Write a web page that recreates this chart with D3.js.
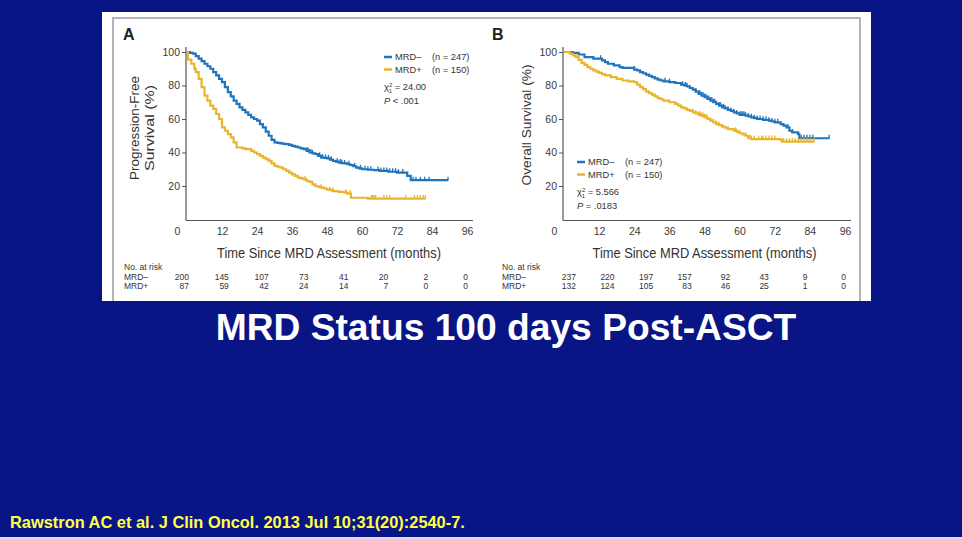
<!DOCTYPE html>
<html>
<head>
<meta charset="utf-8">
<script src="https://cdn.jsdelivr.net/npm/d3@7/dist/d3.min.js"></script>
<style>
  html, body { margin: 0; padding: 0; background: #0a1585; }
  svg { display: block; }
  text { font-family: "Liberation Sans", Arial, Helvetica, sans-serif; }
</style>
</head>
<body>
<svg id="chart" width="962" height="539"></svg>
<script>
// ---------------- DATA ----------------
const xTicks = [0, 12, 24, 36, 48, 60, 72, 84, 96];
const yTicks = [20, 40, 60, 80, 100];
const seriesNames = ["MRD\u2013", "MRD+"];
const seriesN = ["(n = 247)", "(n = 150)"];

// Panel A: progression-free survival [month, %]
const pfsNeg = [[0,100],[1,99.5],[2,99],[3,97.5],[4,96],[5,94.5],[6,93],[7,91.5],[8,90],[9,88],[10,86],[11,84],[12,82],[13,79],[14,76],[15,73.5],[16,71],[17,69],[18,67],[19,65.5],[20,64],[21,62.5],[22,61],[23,60],[24,59],[25,57],[26,55],[27,52.5],[28,50],[29,47.5],[30,46],[31,45.8],[32,45.5],[33,45.2],[34,45],[35,44.5],[36,44],[37,43.5],[38,43],[39,42.5],[40,42],[41,41],[42,40],[43,39.5],[44,39],[45,38],[46,37],[47,36.8],[48,36.5],[49,35.7],[50,35],[51,34.5],[52,34],[53,33.7],[54,33.5],[55,33],[56,32.5],[57,31.8],[58,31],[59,30.5],[60,30],[62,29.7],[64,29.5],[66,29],[69,28.5],[72,28],[75.5,26],[76.7,23.5],[89.5,23.5]];
const pfsPos = [[0,100],[0.3,95.5],[1.5,93],[2.5,90],[3,88],[4,84],[5,79],[6,74],[7,71],[8,68],[9,66],[10,63],[11,60],[12,55],[13,53],[14,51],[15,49],[16,46],[17,43],[19,42.5],[20,42],[22,41],[23,40],[24,39],[25,38],[26,37],[27,36],[28,35],[29,33.5],[30,32],[31,31.5],[32,31],[33,30],[34,29],[35,28],[36,27],[37,26],[38,25],[39,24.5],[40,24],[41,23],[42,22.5],[43,21],[44,20],[45,19.5],[46,19],[47,18.5],[48,18],[49,17.5],[50,17],[52,16.5],[54,16],[55,15.5],[56.2,13],[62,12.5],[81.7,12.5]];
const pfsNegCensor = [41,41.5,42,42.5,43,45.5,46.5,47.5,48.5,49.5,51.5,52.5,53,54,55.5,57.5,59.5,61,62,63,65.5,66.5,67.5,68.5,69.5,70.5,71.5,72.5,74,77.5,78.5,80,81.5,83,89.5];
const pfsPosCensor = [40.5,46,49,50,54.6,56,63.2,63.7,64.2,64.7,67.5,68.5,69.5,75,78,79,80,81,81.7];
const pfsRiskNeg = [200, 145, 107, 73, 41, 20, 2, 0];
const pfsRiskPos = [87, 59, 42, 24, 14, 7, 0, 0];

// Panel B: overall survival [month, %]
const osNeg = [[0,100],[3,99.5],[5,98.5],[7,97],[10,96],[13,95],[14,94],[15,93],[17,92],[19,91],[20,90.5],[24,89.5],[25,89],[26,88],[27,87.3],[28,86.5],[29,85.7],[30,85],[31,84.3],[32,83.5],[33,83],[34,82.5],[36,82],[38,81.5],[40,80.5],[41,80],[42,79.5],[43,78.5],[44,77.5],[45,76.3],[46,75],[47,74],[48,73],[49,72],[50,71],[51,70],[52,69],[53,68],[54,67],[55,66.3],[56,65.5],[57,64.8],[58,64],[59,63.3],[60,62.5],[62,62],[63,61.5],[64,61],[65,60.5],[66,60],[68,59.5],[70,59],[71,58.5],[72,58],[74,57],[75,56],[76,55],[77,53],[78,52],[80,51],[80.4,48.5],[90.6,48.5]];
const osPos = [[0,100],[2,99],[3,98],[4,97],[5,95.3],[6,93.5],[7,92.3],[8,91],[9,90],[10,89],[11,88.3],[12,87.5],[13,86.8],[14,86],[16,85],[18,84],[20,83],[22,82.5],[24,82],[25,80.5],[26,79],[27,77.8],[28,76.5],[29,75.5],[30,74.5],[31,73.5],[32,72.5],[33,71.8],[34,71],[36,70],[38,69],[39,68],[40,67],[41,66.3],[42,65.5],[43,64.8],[44,64],[45,63.3],[46,62.5],[47,61.8],[48,61],[49,60],[50,59],[51,58],[52,57],[53,56.3],[54,55.5],[55,54.8],[56,54],[58,53],[59,52.3],[60,51.5],[61,50.8],[62,50],[63,48.5],[64,48],[74,47.5],[74.5,46.5],[85.5,46.5]];
const osNegCensor = [12.5,24,34.5,36,40.5,41.5,42,45,46,46.5,47,47.5,48,48.5,49,49.5,50,50.5,51,51.5,52,53,53.5,54.5,55,56,57,58,59,60,60.5,61,61.5,62,63,64,65,66,67,68,69,70,71,72,73,76.5,78,81,82,83,84,85,90.6];
const osPosCensor = [44,45,46,46.5,47,47.5,48,48.5,49,50,51,52,53,58.5,59,60,62,63.5,64,65,66.5,67.5,68,69,70,71,72,75,76,77,78,79,80,81,82,83,84,85.5];
const osRiskNeg = [237, 220, 197, 157, 92, 43, 9, 0];
const osRiskPos = [132, 124, 105, 83, 46, 25, 1, 0];

const pfsStats = ["24.00", "< .001"];
const osStats = ["5.566", "= .0183"];

// ---------------- DRAWING ----------------
const colors = ["#1f74bd", "#e8b52c"];
const svg = d3.select("#chart");

svg.append("rect").attr("width", 962).attr("height", 539).attr("fill", "#0a1585");
svg.append("rect").attr("x", 0).attr("y", 537).attr("width", 962).attr("height", 2).attr("fill", "#dcdcef");
svg.append("rect").attr("x", 102).attr("y", 12).attr("width", 769).attr("height", 289).attr("fill", "#ffffff");
svg.append("path").attr("d", "M113,301V18H860V301").attr("fill", "none")
  .attr("stroke", "#b4b4b4").attr("stroke-width", 2);

function stepValue(data, t) {
  let v = data[0][1];
  for (const d of data) { if (d[0] <= t) v = d[1]; else break; }
  return v;
}

function drawPanel(cfg) {
  const g = svg.append("g");
  const x = d3.scaleLinear().domain([0, 96]).range([cfg.x0, cfg.x1]);
  const y = d3.scaleLinear().domain([0, 100]).range([219.5, 52]);

  g.append("text").attr("x", cfg.letterX).attr("y", 40).text(cfg.letter)
    .attr("font-size", 16).attr("font-weight", "bold").attr("fill", "#222");

  g.append("line").attr("x1", cfg.x0 - 1).attr("x2", cfg.x0 - 1).attr("y1", 47).attr("y2", 220.5)
    .attr("stroke", "#555").attr("stroke-width", 1.2);
  g.append("line").attr("x1", cfg.x0 - 1).attr("x2", cfg.x1 + 6).attr("y1", 220.5).attr("y2", 220.5)
    .attr("stroke", "#555").attr("stroke-width", 1.2);

  const ya = g.append("g").attr("transform", `translate(${cfg.x0 - 1},0)`)
    .call(d3.axisLeft(y).tickValues(yTicks).tickSize(4).tickPadding(2));
  ya.select(".domain").remove();
  ya.selectAll("line").attr("stroke", "#555");
  ya.selectAll("text").attr("font-size", 10.5).attr("fill", "#3a3a3a")
    .attr("font-family", "'Liberation Sans', Arial, sans-serif");

  const xa = g.append("g").attr("transform", "translate(0,220.5)")
    .call(d3.axisBottom(x).tickValues(xTicks).tickSize(0).tickPadding(7));
  xa.select(".domain").remove();
  xa.selectAll("text").attr("font-size", 10.5).attr("fill", "#3a3a3a")
    .attr("font-family", "'Liberation Sans', Arial, sans-serif")
    .attr("dx", d => d === 0 ? -10 : 0);

  cfg.yTitle.forEach((t, i) => {
    g.append("text")
      .attr("transform", `translate(${cfg.yTitleX + i * 15},${cfg.yTitleY}) rotate(-90)`)
      .attr("text-anchor", "middle").attr("font-size", 13.5).attr("fill", "#333")
      .attr("textLength", cfg.yTitleLen[i]).attr("lengthAdjust", "spacingAndGlyphs")
      .text(t);
  });

  g.append("text").attr("x", (cfg.x0 + cfg.x1) / 2 + cfg.xTitleShift).attr("y", 258)
    .attr("text-anchor", "middle").attr("font-size", 15.5).attr("fill", "#333")
    .attr("textLength", 224).attr("lengthAdjust", "spacingAndGlyphs")
    .text("Time Since MRD Assessment (months)");

  const line = d3.line().x(d => x(d[0])).y(d => y(d[1])).curve(d3.curveStepAfter);
  cfg.series.forEach((s, i) => {
    g.append("path").datum(s).attr("d", line).attr("fill", "none")
      .attr("stroke", colors[i]).attr("stroke-width", 2.2);
  });
  cfg.censors.forEach((c, i) => {
    g.selectAll(null).data(c).enter().append("line")
      .attr("x1", d => x(d)).attr("x2", d => x(d))
      .attr("y1", d => y(stepValue(cfg.series[i], d)) - 3.5)
      .attr("y2", d => y(stepValue(cfg.series[i], d)) + 0.5)
      .attr("stroke", colors[i]).attr("stroke-width", 1.3);
  });

  const lg = g.append("g").attr("transform", `translate(${cfg.legX},${cfg.legY})`);
  seriesNames.forEach((n, i) => {
    lg.append("line").attr("x1", 0).attr("x2", 8).attr("y1", i * 12.5 - 3).attr("y2", i * 12.5 - 3)
      .attr("stroke", colors[i]).attr("stroke-width", 2.5);
    lg.append("text").attr("x", 11).attr("y", i * 12.5).attr("font-size", 9.3).attr("fill", "#333").text(n);
    lg.append("text").attr("x", cfg.nOffset).attr("y", i * 12.5).attr("font-size", 9.3).attr("fill", "#333").text(seriesN[i]);
  });
  const chi = lg.append("text").attr("x", 0).attr("y", 30).attr("font-size", 9.3).attr("fill", "#333");
  chi.append("tspan").text("\u03c7");
  chi.append("tspan").attr("font-size", 6).attr("dy", -3.5).text("2");
  chi.append("tspan").attr("font-size", 6).attr("dx", -3.4).attr("dy", 6).text("1");
  chi.append("tspan").attr("dy", -2.5).text(" = " + cfg.stats[0]);
  const pv = lg.append("text").attr("x", 0).attr("y", 43.5).attr("font-size", 9.3).attr("fill", "#333");
  pv.append("tspan").attr("font-style", "italic").text("P");
  pv.append("tspan").text(" " + cfg.stats[1]);

  g.append("text").attr("x", cfg.tableX).attr("y", 270).attr("font-size", 8.5).attr("fill", "#333").text("No. at risk");
  const colX = d3.scalePoint().domain(d3.range(cfg.risk[0].length)).range(cfg.riskRange);
  cfg.risk.forEach((row, r) => {
    const yy = 280 + r * 8.7;
    g.append("text").attr("x", cfg.tableX).attr("y", yy).attr("font-size", 8.5).attr("fill", "#333").text(seriesNames[r]);
    g.selectAll(null).data(row).enter().append("text")
      .attr("x", (d, i) => colX(i)).attr("y", yy).attr("text-anchor", "end")
      .attr("font-size", 8.5).attr("fill", "#333").text(d => d);
  });
}

drawPanel({
  letter: "A", letterX: 123, x0: 187, x1: 467,
  yTitle: ["Progression-Free", "Survival (%)"], yTitleX: 139, yTitleY: 128, yTitleLen: [104, 86],
  xTitleShift: 2,
  series: [pfsNeg, pfsPos], censors: [pfsNegCensor, pfsPosCensor],
  legX: 384, legY: 60, nOffset: 48, stats: pfsStats,
  tableX: 124, risk: [pfsRiskNeg, pfsRiskPos], riskRange: [189, 468]
});
drawPanel({
  letter: "B", letterX: 492, x0: 564, x1: 845,
  yTitle: ["Overall Survival (%)"], yTitleX: 531, yTitleY: 125, yTitleLen: [121],
  xTitleShift: 0,
  series: [osNeg, osPos], censors: [osNegCensor, osPosCensor],
  legX: 577, legY: 165, nOffset: 48, stats: osStats,
  tableX: 502, risk: [osRiskNeg, osRiskPos], riskRange: [576, 846]
});

svg.append("text").attr("x", 506).attr("y", 340).attr("text-anchor", "middle")
  .attr("font-size", 37.2).attr("font-weight", "bold").attr("fill", "#ffffff")
  .text("MRD Status 100 days Post-ASCT");
svg.append("text").attr("x", 10).attr("y", 528)
  .attr("font-size", 16.4).attr("font-weight", "bold").attr("fill", "#ffff4a")
  .text("Rawstron AC et al. J Clin Oncol. 2013 Jul 10;31(20):2540-7.");
</script>
</body>
</html>
